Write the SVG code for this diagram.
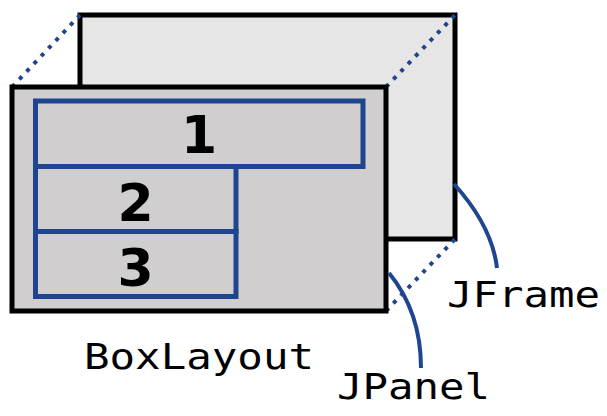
<svg xmlns="http://www.w3.org/2000/svg" width="607" height="416" viewBox="0 0 607 416">
  <style>
    .frame { fill: #e6e6e6; stroke: #000; stroke-width: 5; }
    .panel { fill: #d0cece; stroke: #000; stroke-width: 5; }
    .cell { fill: none; stroke: #1f4591; stroke-width: 5; }
    .dots { fill: none; stroke: #1f4591; stroke-width: 4; stroke-dasharray: 4 6.6; }
    .lead { fill: none; stroke: #1f4591; stroke-width: 4; stroke-linecap: butt; }
    .num { font-family: "DejaVu Sans", sans-serif; font-weight: bold; font-size: 52px; fill: #000; text-anchor: middle; }
    .mono { font-family: "DejaVu Sans Mono", "Liberation Mono", monospace; font-size: 36px; fill: #000; }
  </style>
  <g id="jframe">
    <rect class="frame" x="80" y="15" width="375" height="224"/>
  </g>
  <g id="connectors">
    <line class="dots" x1="12" y1="87" x2="80" y2="15"/>
    <line class="dots" x1="386" y1="87" x2="455" y2="15"/>
    <line class="dots" x1="386" y1="311" x2="455" y2="239"/>
  </g>
  <g id="jpanel">
    <rect class="panel" x="12" y="87" width="374" height="224"/>
  </g>
  <g id="cell1">
    <rect class="cell" x="35.5" y="101" width="327.5" height="65.5"/>
    <text class="num" x="199" y="153">1</text>
  </g>
  <g id="cell2">
    <rect class="cell" x="35.5" y="166.5" width="200.5" height="65"/>
    <text class="num" x="135.5" y="221">2</text>
  </g>
  <g id="cell3">
    <rect class="cell" x="35.5" y="231.5" width="200.5" height="65"/>
    <text class="num" x="135.5" y="286">3</text>
  </g>
  <g id="leaders">
    <path class="lead" d="M454,184 Q492,226 497,268"/>
    <path class="lead" d="M389,273 Q421,312 421,368"/>
  </g>
  <g id="label-boxlayout">
    <text class="mono" x="84" y="369" textLength="230" lengthAdjust="spacingAndGlyphs">BoxLayout</text>
  </g>
  <g id="label-jframe">
    <text class="mono" x="447" y="307" textLength="153" lengthAdjust="spacingAndGlyphs">JFrame</text>
  </g>
  <g id="label-jpanel">
    <text class="mono" x="337" y="399" textLength="153" lengthAdjust="spacingAndGlyphs">JPanel</text>
  </g>
</svg>
